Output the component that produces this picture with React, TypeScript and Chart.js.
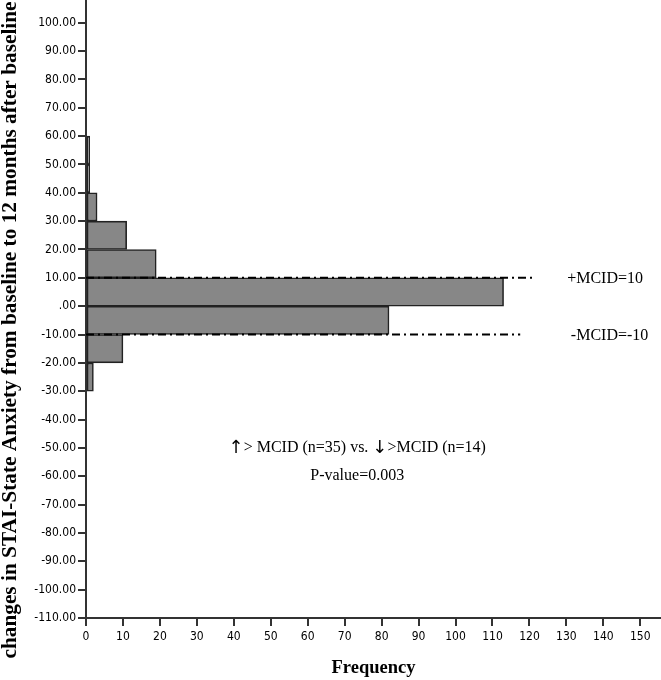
import React, { useEffect, useRef } from 'react';
import { Chart, registerables } from 'chart.js';

Chart.register(...registerables);

// Histogram bins (centre of each 10-point bin) and their frequencies
const binCenters = [55, 45, 35, 25, 15, 5, -5, -15, -25];
const frequencies = [1, 1, 3, 11, 19, 113, 82, 10, 2];

// MCID reference lines: y value and where the dash-dot line stops (frequency units)
const mcidValues = [10, -10];
const mcidLineEnds = [121, 117.5];
const mcidLabels = ['+MCID=10', '-MCID=-10'];

const yTickMin = -110;
const yTickMax = 100;
const xTickMax = 150;

const comparisonParts = ['\u2191', '> MCID (n=35) vs. ', '\u2193', '>MCID (n=14)'];
const pValueText = 'P-value=0.003';
const yTitle = 'changes in STAI-State Anxiety from baseline to 12 months after baseline';
const xTitle = 'Frequency';

const serif = '"Liberation Serif", "Times New Roman", "DejaVu Serif", serif';
const tickFont = '"DejaVu Sans Condensed", "DejaVu Sans", sans-serif';
const arrowFont = '"DejaVu Sans", sans-serif';

const annotationPlugin = {
  id: 'annotations',
  afterDatasetsDraw(chart: any) {
    const { ctx, scales } = chart;
    const x = scales.x;
    const y = scales.y;
    ctx.save();
    ctx.fillStyle = '#000';
    ctx.font = '16px ' + serif;
    ctx.textBaseline = 'middle';
    ctx.textAlign = 'left';
    ctx.fillText(mcidLabels[0], x.getPixelForValue(130.2), y.getPixelForValue(9.8));
    ctx.fillText(mcidLabels[1], x.getPixelForValue(131.2), y.getPixelForValue(-10.3));

    // comparison line, mixing arrow glyphs and serif text, centred
    const fonts = comparisonParts.map((_, i) => (i % 2 === 0 ? '18px ' + arrowFont : '16px ' + serif));
    const widths = comparisonParts.map((t, i) => {
      ctx.font = fonts[i];
      return ctx.measureText(t).width;
    });
    const total = widths.reduce((a, b) => a + b, 0);
    let cx = x.getPixelForValue(73.4) - total / 2;
    const cy = y.getPixelForValue(-50);
    comparisonParts.forEach((t, i) => {
      ctx.font = fonts[i];
      ctx.fillText(t, cx, cy);
      cx += widths[i];
    });

    ctx.textAlign = 'center';
    ctx.font = '16px ' + serif;
    ctx.fillText(pValueText, x.getPixelForValue(73.4), y.getPixelForValue(-60));

    // rotated y-axis title
    ctx.translate(10, 330);
    ctx.rotate(-Math.PI / 2);
    ctx.font = 'bold 21.3px ' + serif;
    ctx.fillText(yTitle, 0, 0);
    ctx.restore();
  },
};

export default function App() {
  const canvasRef = useRef<HTMLCanvasElement | null>(null);

  useEffect(() => {
    const canvas = canvasRef.current;
    if (!canvas) return;

    const barData = binCenters.map((c, i) => ({ x: frequencies[i], y: c }));
    const lineDatasets = mcidValues.map((v, i) => ({
      type: 'line' as const,
      data: [
        { x: 0, y: v },
        { x: mcidLineEnds[i], y: v },
      ],
      borderColor: '#000',
      borderWidth: 2,
      borderDash: [8, 4, 2, 4],
      pointRadius: 0,
      fill: false,
      order: 1,
    }));

    const chart = new Chart(canvas, {
      type: 'bar',
      data: {
        datasets: [
          {
            type: 'bar',
            data: barData as any,
            backgroundColor: '#878787',
            borderColor: '#222',
            borderWidth: 1.6,
            borderSkipped: false,
            barPercentage: 1,
            categoryPercentage: 1,
            order: 2,
          } as any,
          ...(lineDatasets as any),
        ],
      },
      options: {
        indexAxis: 'y',
        animation: false,
        responsive: false,
        maintainAspectRatio: false,
        layout: { padding: 0 },
        plugins: {
          legend: { display: false },
          tooltip: { enabled: false },
        },
        scales: {
          x: {
            type: 'linear',
            min: 0,
            max: 155.6,
            offset: false,
            afterFit: (s: any) => {
              s.height = 62;
              s.paddingLeft = 0;
              s.paddingRight = 0;
            },
            border: { display: true, color: '#333', width: 2 },
            grid: {
              display: true,
              offset: false,
              drawOnChartArea: false,
              drawTicks: true,
              tickLength: 8,
              color: '#333',
              lineWidth: 2,
            },
            ticks: {
              stepSize: 10,
              includeBounds: false,
              color: '#000',
              padding: 4,
              maxRotation: 0,
              autoSkip: false,
              font: { family: tickFont, size: 12 },
              callback: (v: any) => (Number(v) <= xTickMax ? String(v) : ''),
            },
            title: {
              display: true,
              text: xTitle,
              color: '#000',
              font: { family: serif, size: 18.5, weight: 'bold' },
              padding: { top: 0, bottom: 1 },
            },
          },
          y: {
            type: 'linear',
            min: yTickMin,
            max: 108,
            offset: false,
            afterFit: (s: any) => {
              s.width = 86;
              s.paddingTop = 0;
              s.paddingBottom = 0;
            },
            border: { display: true, color: '#333', width: 2 },
            grid: {
              display: true,
              offset: false,
              drawOnChartArea: false,
              drawTicks: true,
              tickLength: 8,
              color: '#333',
              lineWidth: 2,
            },
            ticks: {
              stepSize: 10,
              includeBounds: false,
              color: '#000',
              padding: 2,
              autoSkip: false,
              font: { family: tickFont, size: 12 },
              callback: (v: any) => {
                const n = Number(v);
                if (n > yTickMax) return '';
                return n === 0 ? '.00' : n.toFixed(2);
              },
            },
          },
        },
      },
      plugins: [annotationPlugin],
    });

    return () => chart.destroy();
  }, []);

  return (
    <div style={{ position: 'absolute', left: 0, top: 0, width: 661, height: 680, background: '#fff' }}>
      <canvas ref={canvasRef} width={661} height={680} />
    </div>
  );
}
